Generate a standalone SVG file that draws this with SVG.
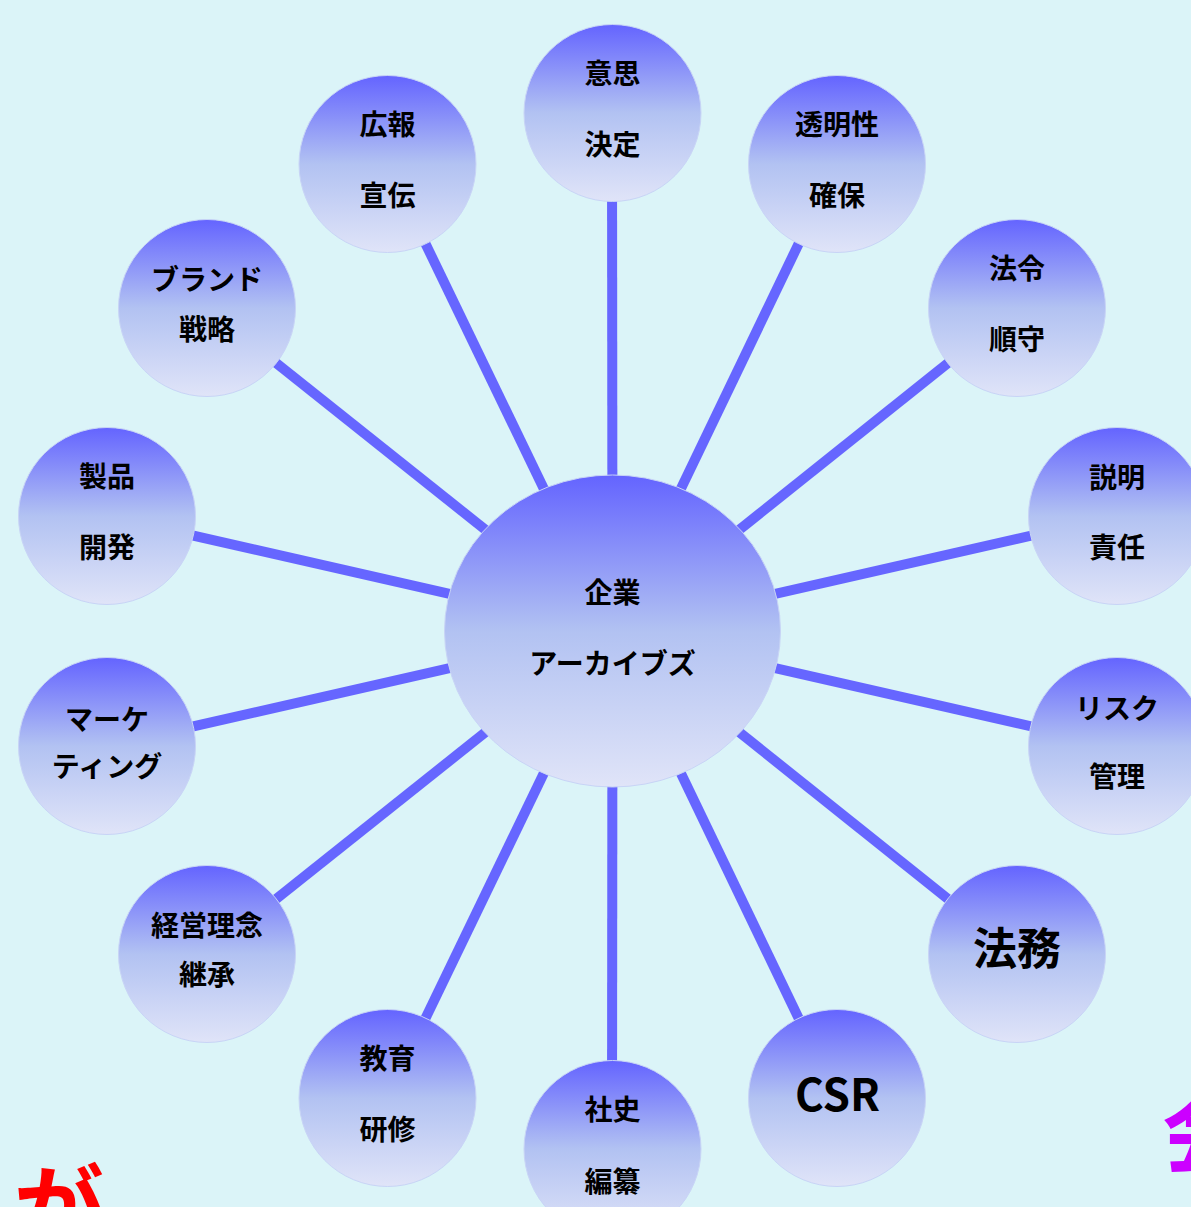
<svg xmlns="http://www.w3.org/2000/svg" width="1191" height="1207" viewBox="0 0 1191 1207">
<defs>
<linearGradient id="g" x1="0" y1="0" x2="0" y2="1">
<stop offset="0" stop-color="#6464ff"/>
<stop offset="0.5" stop-color="#b2c2f2"/>
<stop offset="1" stop-color="#e0e4f8"/>
</linearGradient>
<style>
.n{fill:url(#g);stroke:#c8d4f6;stroke-width:1}
.t{font-family:"Noto Sans CJK JP","Noto Sans",sans-serif;font-weight:bold;font-size:28px;fill:#000;text-anchor:middle;dominant-baseline:central}
.big{font-size:44px}
.c line{stroke:#6666ff;stroke-width:10}
</style>
</defs>
<rect width="1191" height="1207" fill="#dbf4f8"/>
<g id="connectors" class="c">
<line x1="612.5" y1="631" x2="612" y2="113"/>
<line x1="612.5" y1="631" x2="837" y2="164"/>
<line x1="612.5" y1="631" x2="1017" y2="308"/>
<line x1="612.5" y1="631" x2="1117" y2="516"/>
<line x1="612.5" y1="631" x2="1117" y2="746"/>
<line x1="612.5" y1="631" x2="1017" y2="954"/>
<line x1="612.5" y1="631" x2="837" y2="1098"/>
<line x1="612.5" y1="631" x2="612" y2="1149"/>
<line x1="612.5" y1="631" x2="387" y2="1098"/>
<line x1="612.5" y1="631" x2="207" y2="954"/>
<line x1="612.5" y1="631" x2="107" y2="746"/>
<line x1="612.5" y1="631" x2="107" y2="516"/>
<line x1="612.5" y1="631" x2="207" y2="308"/>
<line x1="612.5" y1="631" x2="387" y2="164"/>
</g>
<g id="center"><ellipse class="n" cx="612.5" cy="631" rx="168" ry="156"/><text class="t" x="612.5" y="591">企業</text><text class="t" x="612.5" y="662">アーカイブズ</text></g>
<g id="n-ishi"><circle class="n" cx="612.5" cy="113" r="88.5"/><text class="t" x="612.5" y="72">意思</text><text class="t" x="612.5" y="143">決定</text></g>
<g id="n-toumei"><circle class="n" cx="837" cy="164" r="88.5"/><text class="t" x="837" y="123">透明性</text><text class="t" x="837" y="194">確保</text></g>
<g id="n-hourei"><circle class="n" cx="1017" cy="308" r="88.5"/><text class="t" x="1017" y="267">法令</text><text class="t" x="1017" y="338">順守</text></g>
<g id="n-setsumei"><circle class="n" cx="1117" cy="516" r="88.5"/><text class="t" x="1117" y="476">説明</text><text class="t" x="1117" y="546">責任</text></g>
<g id="n-risk"><circle class="n" cx="1117" cy="746" r="88.5"/><text class="t" x="1117" y="707">リスク</text><text class="t" x="1117" y="775">管理</text></g>
<g id="n-houmu"><circle class="n" cx="1017" cy="954" r="88.5"/><text class="t big" x="1017" y="946">法務</text></g>
<g id="n-csr"><circle class="n" cx="837" cy="1098" r="88.5"/><text class="t big" x="837.5" y="1092">CSR</text></g>
<g id="n-shashi"><circle class="n" cx="612.5" cy="1149" r="88.5"/><text class="t" x="612.5" y="1108">社史</text><text class="t" x="612.5" y="1180">編纂</text></g>
<g id="n-kyouiku"><circle class="n" cx="387.5" cy="1098" r="88.5"/><text class="t" x="387.5" y="1057">教育</text><text class="t" x="387.5" y="1128">研修</text></g>
<g id="n-keiei"><circle class="n" cx="207" cy="954" r="88.5"/><text class="t" x="207" y="924">経営理念</text><text class="t" x="207" y="973">継承</text></g>
<g id="n-marketing"><circle class="n" cx="107" cy="746" r="88.5"/><text class="t" x="107" y="718">マーケ</text><text class="t" x="107" y="765">ティング</text></g>
<g id="n-seihin"><circle class="n" cx="107" cy="516" r="88.5"/><text class="t" x="107" y="475">製品</text><text class="t" x="107" y="546">開発</text></g>
<g id="n-brand"><circle class="n" cx="207" cy="308" r="88.5"/><text class="t" x="207" y="278">ブランド</text><text class="t" x="207" y="328">戦略</text></g>
<g id="n-kouhou"><circle class="n" cx="387.5" cy="164" r="88.5"/><text class="t" x="387.5" y="123">広報</text><text class="t" x="387.5" y="194">宣伝</text></g>
<text x="14" y="1240" font-family="Noto Sans CJK JP, sans-serif" font-weight="bold" font-size="90" fill="#ff0000">が</text>
<text x="1162" y="1166" font-family="Noto Sans CJK JP, sans-serif" font-weight="bold" font-size="90" fill="#cc00ff">会</text>
</svg>
